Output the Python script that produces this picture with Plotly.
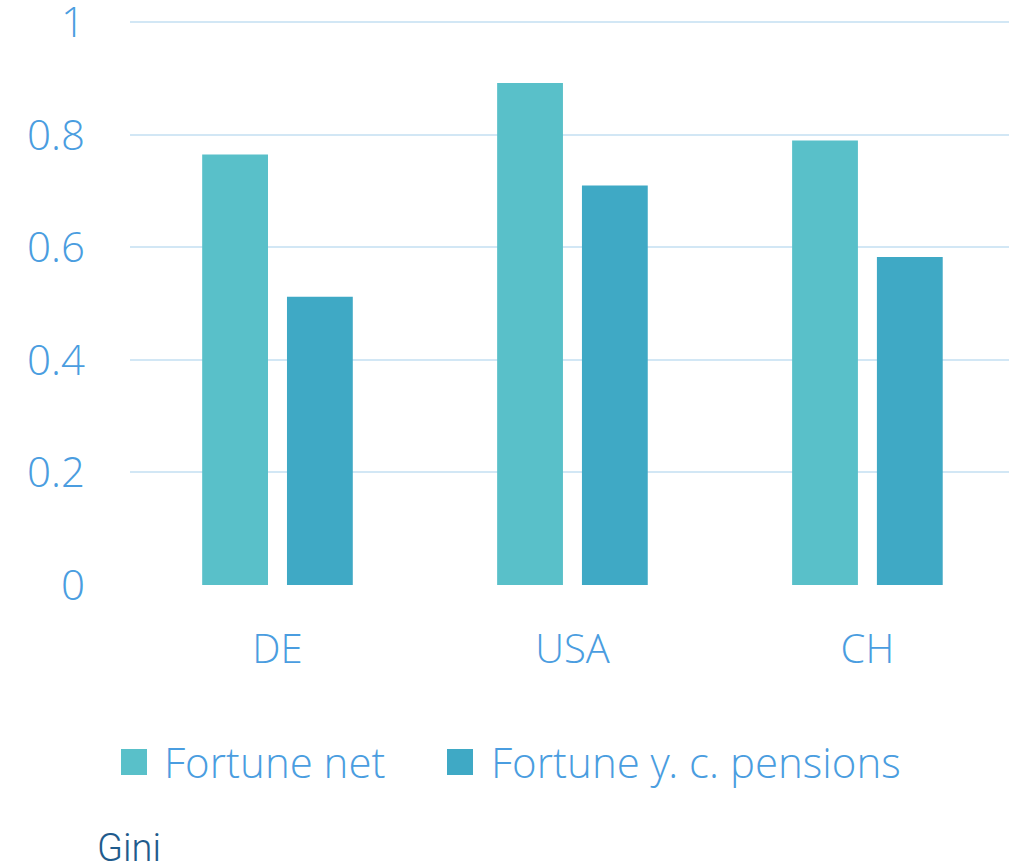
import plotly.graph_objects as go

categories = ["DE", "USA", "CH"]
fortune_net = [0.765, 0.892, 0.79]
fortune_pensions = [0.512, 0.71, 0.583]
series_names = ["Fortune net", "Fortune y. c. pensions"]
colors = ["#59c0c9", "#3fa9c5"]
y_ticks = [0, 0.2, 0.4, 0.6, 0.8, 1]
y_ticktext = ["0", "0.2", "0.4", "0.6", "0.8", "1"]

text_color = "#4a9de0"
font_family = "Open Sans Light, Open Sans"

W, H = 1009, 867
Y_TOP = 1.02
ML, MR, MT, MB = 130, 0, 11, 282
PW, PH = W - ML - MR, H - MT - MB


def px_x(p):
    return (p - ML) / PW


def px_y(p):
    return (H - MB - p) / PH


fig = go.Figure()
for name, vals, col in zip(series_names, [fortune_net, fortune_pensions], colors):
    fig.add_trace(go.Bar(x=categories, y=vals, name=name, marker_color=col,
                         marker_line_width=0, showlegend=False))

fig.update_layout(
    width=W, height=H,
    margin=dict(l=ML, r=MR, t=MT, b=MB),
    paper_bgcolor="white", plot_bgcolor="white",
    barmode="group", bargap=0.425, bargroupgap=0.224,
    font=dict(family=font_family, color=text_color, size=42, weight=300),
    showlegend=False,
    xaxis=dict(range=[-0.5, 2.48], showgrid=False, showline=False, zeroline=False,
               ticks="", ticklabelstandoff=37, automargin=False,
               tickfont=dict(size=40, color=text_color, family=font_family, weight=300)),
    yaxis=dict(range=[0, Y_TOP], tickvals=y_ticks, ticktext=y_ticktext,
               showgrid=True, gridcolor="#d2e7f5", gridwidth=2, automargin=False,
               zeroline=False, showline=False, ticks="", ticklabelstandoff=44,
               ticklabeloverflow="allow",
               tickfont=dict(size=42, color=text_color, family=font_family, weight=300)),
)

# legend (manual, to match large square swatches)
legend_items = [(121, 147, 162), (447, 473, 489)]
for (x0, x1, tx), name, col in zip(legend_items, series_names, colors):
    fig.add_shape(type="rect", xref="paper", yref="paper",
                  x0=px_x(x0), x1=px_x(x1), y0=px_y(775), y1=px_y(749),
                  fillcolor=col, line_width=0)
    fig.add_annotation(text=name, xref="paper", yref="paper", x=px_x(tx), y=px_y(761),
                       xanchor="left", yanchor="middle", showarrow=False,
                       font=dict(size=42, color=text_color, family=font_family, weight=300))

fig.add_annotation(text="Gini", xref="paper", yref="paper", x=px_x(95), y=px_y(848),
                   xanchor="left", yanchor="middle", showarrow=False,
                   font=dict(size=38, color="#1f5b8c", family="Roboto"))

fig.write_html("out.html", config={"displayModeBar": False},
               post_script="document.body.style.margin='0';document.body.style.overflow='hidden';")
